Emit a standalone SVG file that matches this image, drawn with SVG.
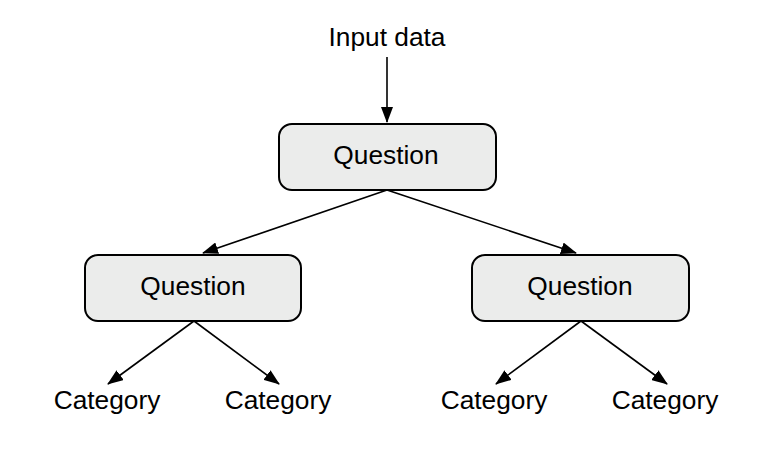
<svg xmlns="http://www.w3.org/2000/svg" width="766" height="468" viewBox="0 0 766 468">
<defs>
<marker id="ah" markerWidth="16" markerHeight="12" refX="15" refY="6" orient="auto" markerUnits="userSpaceOnUse">
<path d="M0,0 L16,6 L0,12 Z" fill="#000"/>
</marker>
<style>
.box{fill:#ebeceb;stroke:#000;stroke-width:2}
.t{font-family:"Liberation Sans",Arial,sans-serif;font-size:26.3px;fill:#000;text-anchor:middle}
.c{stroke:#000;stroke-width:1.6;fill:none;marker-end:url(#ah)}
</style>
</defs>
<rect width="766" height="468" fill="#fff"/>
<g id="input"><text class="t" x="387" y="46">Input data</text></g>
<g id="q1"><rect class="box" x="279" y="124" width="217" height="66" rx="13"/><text class="t" x="386" y="164">Question</text></g>
<g id="q2"><rect class="box" x="85" y="255" width="216" height="66" rx="13"/><text class="t" x="193" y="295">Question</text></g>
<g id="q3"><rect class="box" x="472" y="255" width="217" height="66" rx="13"/><text class="t" x="580" y="295">Question</text></g>
<g id="c1"><text class="t" x="107" y="409">Category</text></g>
<g id="c2"><text class="t" x="278" y="409">Category</text></g>
<g id="c3"><text class="t" x="494" y="409">Category</text></g>
<g id="c4"><text class="t" x="665" y="409">Category</text></g>
<g id="connectors">
<line class="c" x1="387" y1="57" x2="387" y2="122"/>
<line class="c" x1="387" y1="190" x2="203" y2="253"/>
<line class="c" x1="387" y1="190" x2="576" y2="253"/>
<line class="c" x1="194" y1="321" x2="108" y2="384"/>
<line class="c" x1="194" y1="321" x2="279" y2="384"/>
<line class="c" x1="581" y1="321" x2="496" y2="384"/>
<line class="c" x1="581" y1="321" x2="667" y2="384"/>
</g>
</svg>
